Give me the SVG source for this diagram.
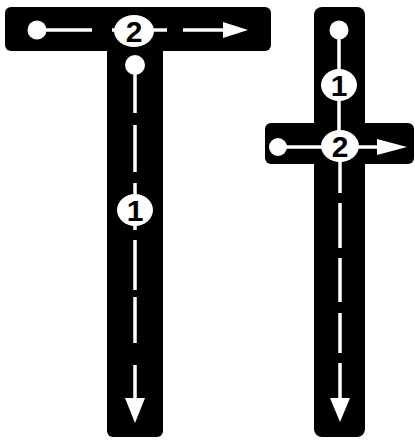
<svg xmlns="http://www.w3.org/2000/svg" width="415" height="440" viewBox="0 0 415 440">
<style>
.bar{fill:#000}
.ln{stroke:#fff;stroke-width:3.5;stroke-linecap:butt;fill:none}
.dot{fill:#fff}
.ah{fill:#fff}
.num{fill:#fff}
.lbl{font-family:"Liberation Sans","DejaVu Sans",sans-serif;font-size:30px;font-weight:bold;fill:#000;text-anchor:middle}
</style>
<rect width="415" height="440" fill="#fff"/>
<g id="left-T">
<rect class="bar" x="5" y="7" width="266" height="44" rx="6"/>
<rect class="bar" x="107" y="40" width="56" height="397" rx="6"/>
</g>
<g id="right-cross">
<rect class="bar" x="314" y="7" width="51" height="430" rx="8"/>
<rect class="bar" x="265" y="123" width="149" height="41" rx="6"/>
</g>
<g id="connectors">
<circle class="dot" cx="37" cy="30" r="9.5"/>
<line class="ln" x1="37" y1="30" x2="92" y2="30"/>
<line class="ln" x1="112" y1="30" x2="120" y2="30"/>
<line class="ln" x1="148" y1="30" x2="167" y2="30"/>
<line class="ln" x1="183" y1="30" x2="226" y2="30"/>
<polygon class="ah" points="223,22 248,30 223,38"/>
<circle class="dot" cx="135" cy="65" r="10"/>
<path class="ln" d="M135 65V113M135 125V172M135 183V200M135 220V230M135 240V290M135 297V343M135 365V400"/>
<polygon class="ah" points="125,398 145,398 135,423"/>
<circle class="dot" cx="339" cy="30" r="9.5"/>
<path class="ln" d="M339 30V146M340 146V193M340 203V248M340 258V302M340 313V353M340 363V400"/>
<polygon class="ah" points="330,398 350,398 340,422"/>
<circle class="dot" cx="278" cy="147" r="9"/>
<line class="ln" x1="278" y1="147" x2="380" y2="147"/>
<polygon class="ah" points="377,139 407,147 377,155"/>
</g>
<g id="step2-left">
<ellipse class="num" cx="134" cy="31" rx="20" ry="16"/>
<text class="lbl" x="134" y="42">2</text>
</g>
<g id="step1-left">
<ellipse class="num" cx="135" cy="210" rx="18" ry="16"/>
<text class="lbl" x="135" y="221">1</text>
</g>
<g id="step1-right">
<ellipse class="num" cx="339" cy="85" rx="18" ry="16"/>
<text class="lbl" x="339" y="96">1</text>
</g>
<g id="step2-right">
<ellipse class="num" cx="340" cy="146" rx="19" ry="16"/>
<text class="lbl" x="340" y="157">2</text>
</g>
</svg>
